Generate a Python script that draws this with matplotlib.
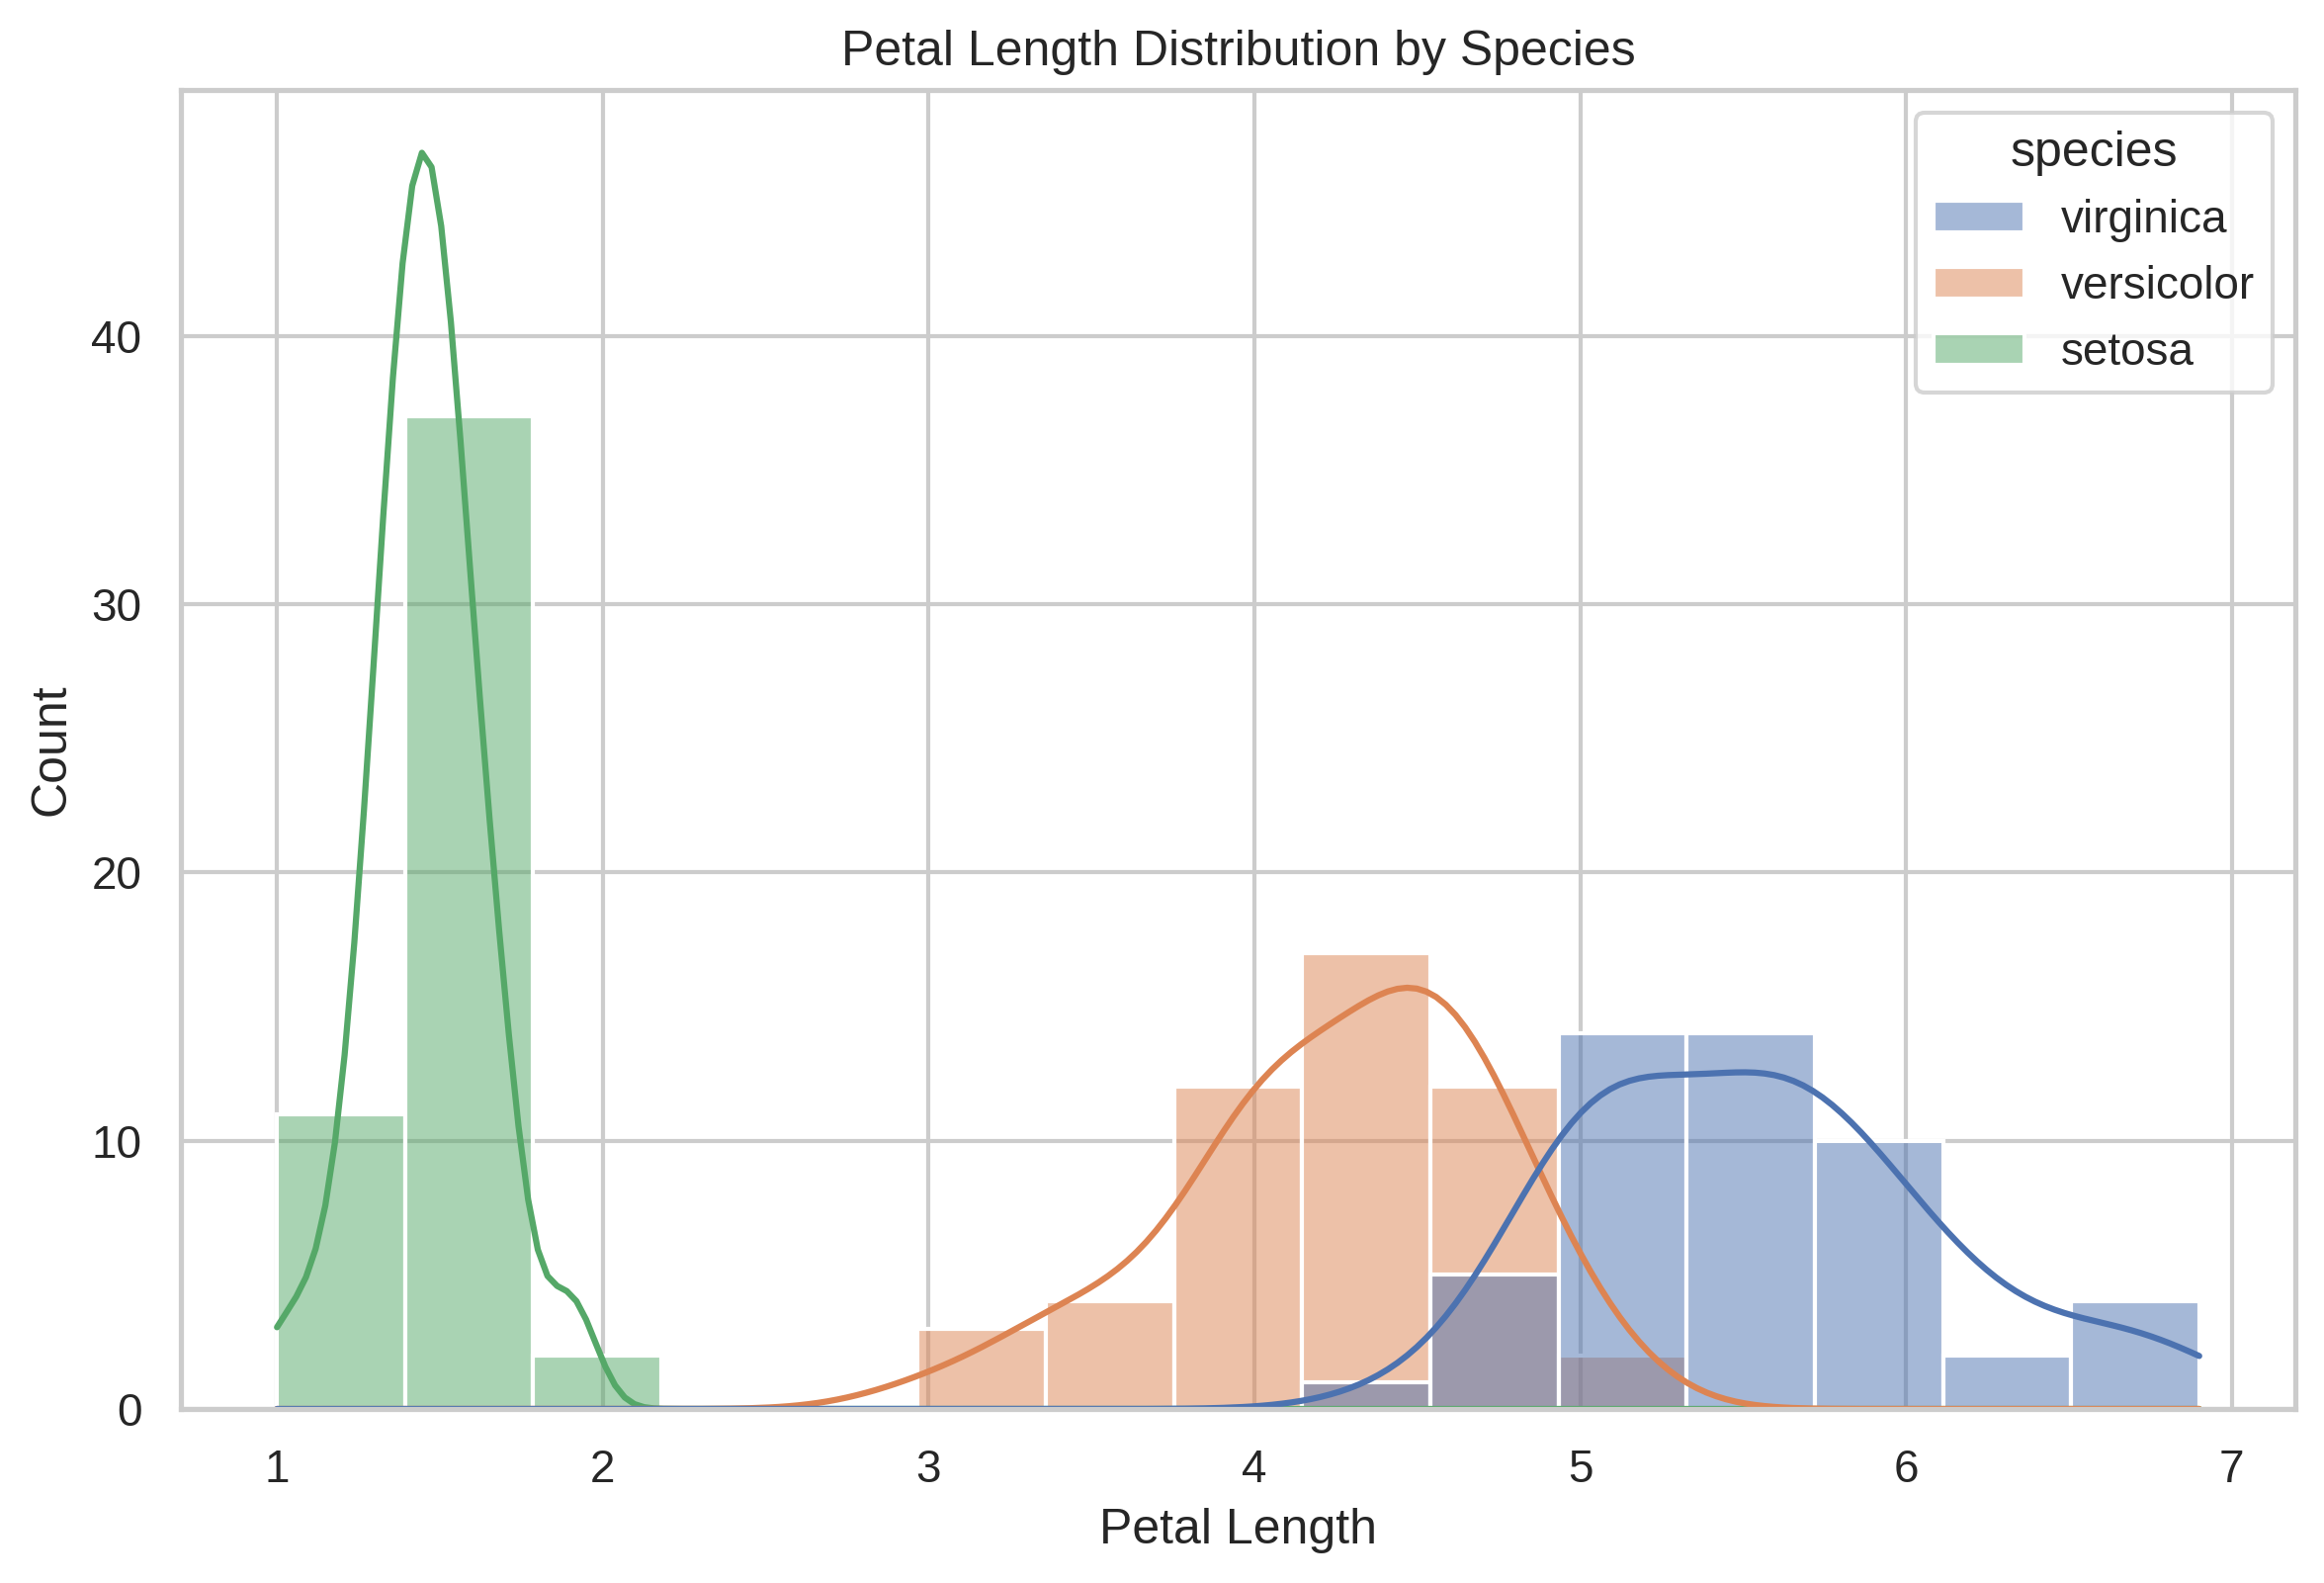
import pandas as pd
import seaborn as sns
import matplotlib.pyplot as plt

# petal lengths (cm) per species
setosa = [1.4, 1.4, 1.3, 1.5, 1.4, 1.7, 1.4, 1.5, 1.4, 1.5, 1.5, 1.6, 1.4, 1.1, 1.2,
          1.5, 1.3, 1.4, 1.7, 1.5, 1.7, 1.5, 1.0, 1.7, 1.9, 1.6, 1.6, 1.5, 1.4, 1.6,
          1.6, 1.5, 1.5, 1.4, 1.5, 1.2, 1.3, 1.4, 1.3, 1.5, 1.3, 1.3, 1.3, 1.6, 1.9,
          1.4, 1.6, 1.4, 1.5, 1.4]
versicolor = [4.7, 4.5, 4.9, 4.0, 4.6, 4.5, 4.7, 3.3, 4.6, 3.9, 3.5, 4.2, 4.0, 4.7, 3.6,
              4.4, 4.5, 4.1, 4.5, 3.9, 4.8, 4.0, 4.9, 4.7, 4.3, 4.4, 4.8, 5.0, 4.5, 3.5,
              3.8, 3.7, 3.9, 5.1, 4.5, 4.5, 4.7, 4.4, 4.1, 4.0, 4.4, 4.6, 4.0, 3.3, 4.2,
              4.2, 4.2, 4.3, 3.0, 4.1]
virginica = [6.0, 5.1, 5.9, 5.6, 5.8, 6.6, 4.5, 6.3, 5.8, 6.1, 5.1, 5.3, 5.5, 5.0, 5.1,
             5.3, 5.5, 6.7, 6.9, 5.0, 5.7, 4.9, 6.7, 4.9, 5.7, 6.0, 4.8, 4.9, 5.6, 5.8,
             6.1, 6.4, 5.6, 5.1, 5.6, 6.1, 5.6, 5.5, 4.8, 5.4, 5.6, 5.1, 5.1, 5.9, 5.7,
             5.2, 5.0, 5.2, 5.4, 5.1]
species_order = ['virginica', 'versicolor', 'setosa']

df = pd.DataFrame({
    'petal_length': setosa + versicolor + virginica,
    'species': ['setosa'] * len(setosa) + ['versicolor'] * len(versicolor)
               + ['virginica'] * len(virginica),
})

sns.set_theme(style='whitegrid')
plt.rcParams['font.family'] = ['Liberation Sans', 'DejaVu Sans']

fig = plt.figure(figsize=(2351 / 300, 1601 / 300), dpi=300)
ax = fig.add_axes([183 / 2351, 1 - 1425 / 1601, (2322 - 183) / 2351, (1425 - 91) / 1601])

sns.histplot(data=df, x='petal_length', hue='species', hue_order=species_order,
             bins=15, kde=True, ax=ax)

ax.set_title('Petal Length Distribution by Species')
ax.set_xlabel('Petal Length')
ax.set_ylabel('Count')

fig.savefig('out.png', dpi=300)
